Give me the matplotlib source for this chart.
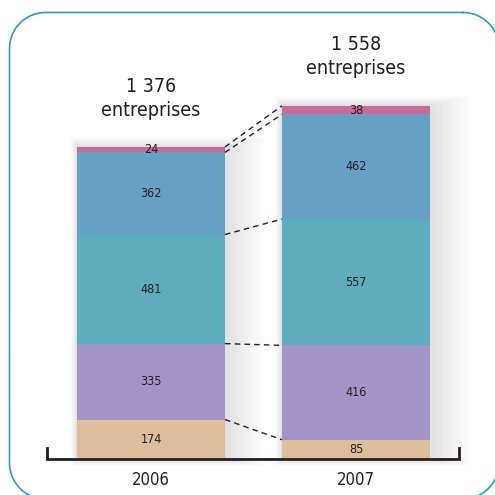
import matplotlib
matplotlib.use("Agg")
import matplotlib.pyplot as plt
from matplotlib.patches import Rectangle
import numpy as np

years = ["2006", "2007"]
totals_text = ["1 376", "1 558"]
segment_names = ["tan", "purple", "teal", "blue", "pink"]
v2006 = [174, 335, 481, 362, 24]
v2007 = [85, 416, 557, 462, 38]
colors = ["#dcbf9a", "#a294c6", "#5eadbd", "#67a0c5", "#c76b97"]

plt.rcParams['font.family'] = ['DejaVu Sans']
FONT = dict(family='DejaVu Sans', stretch='condensed')

W = 495
fig = plt.figure(figsize=(4.95, 4.95), dpi=100)
fig.patch.set_facecolor("white")

# frame axes in pixel coordinates (y downward)
fax = fig.add_axes([0, 0, 1, 1])
fax.set_axis_off()
fax.set_xlim(0, W)
fax.set_ylim(W, 0)
L, T, R, B, r = 9.5, 12.5, 499, 499, 36
pts = []
for cx, cy, a0, a1 in [(R - r, T + r, -90, 0), (R - r, B - r, 0, 90),
                       (L + r, B - r, 90, 180), (L + r, T + r, 180, 270)]:
    t = np.radians(np.linspace(a0, a1, 40))
    pts.append(np.column_stack([cx + r * np.cos(t), cy + r * np.sin(t)]))
pts = np.vstack(pts + [pts[0][:1]])
fax.plot(pts[:, 0], pts[:, 1], color="#2a9fb5", linewidth=1.2, clip_on=False)

ax = fig.add_axes([0, 0, 1, 1])
ax.set_axis_off()
ax.patch.set_alpha(0)

pxu = 312 / 1376.0  # pixels per unit
base_px = 459
ax.set_ylim(-(W - base_px) / pxu, base_px / pxu)
ax.set_xlim(-151 / 205.0, (W - 151) / 205.0)
width = 148 / 205.0

data = [v2006, v2007]
xs = np.arange(len(years))

for x, vals in zip(xs, data):
    tot = sum(vals)
    for k in range(1, 16):
        e = k * 0.01
        ax.add_patch(Rectangle((x - width / 2 - e * 0.2, -k * 2), width + e * 1.5, tot + k * 5,
                               facecolor="#000000", alpha=0.009, linewidth=0, zorder=1))

for x, vals in zip(xs, data):
    bottom = 0
    for v, c in zip(vals, colors):
        ax.bar(x, v, width=width, bottom=bottom, color=c, linewidth=0, zorder=3)
        ax.text(x, bottom + v / 2, str(v), ha="center", va="center",
                fontsize=9, color="#231f20", zorder=5, **FONT)
        bottom += v

cum0 = np.cumsum(v2006)
cum1 = np.cumsum(v2007)
for a, b in zip(cum0, cum1):
    ax.plot([xs[0] + width / 2, xs[1] - width / 2], [a, b], color="#231f20",
            linestyle=(0, (4, 3)), linewidth=1.0, zorder=4)

for x, t, vals in zip(xs, totals_text, data):
    tot = sum(vals)
    ax.text(x, tot + 61 / pxu, t, ha="center", va="center", fontsize=14,
            color="#231f20", **FONT)
    ax.text(x, tot + 37 / pxu, "entreprises", ha="center", va="center", fontsize=14,
            color="#231f20", **FONT)

x_left = (47 - 151) / 205.0
x_right = (459 - 151) / 205.0
tick_h = 11 / pxu
ax.plot([x_left, x_left, x_right, x_right], [tick_h, 0, 0, tick_h],
        color="#231f20", linewidth=2.0, solid_joinstyle="miter", zorder=6)

for x, y in zip(xs, years):
    ax.text(x, -21 / pxu, y, ha="center", va="center", fontsize=12, color="#231f20", **FONT)

fig.savefig("out.png", dpi=100, facecolor="white")
